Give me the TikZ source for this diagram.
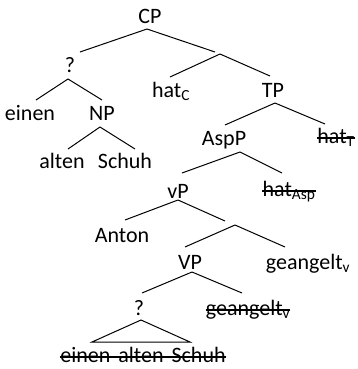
\documentclass[tikz,border=0pt]{standalone}
\usepackage{fontspec}
\setmainfont{Carlito}
\begin{document}
\begin{tikzpicture}[x=1pt,y=-1pt,
  lbl/.style={anchor=base,inner sep=0pt,font=\fontsize{22}{26}\selectfont},
  edge/.style={draw=black,line width=1pt},
  strike/.style={draw=black,line width=1.2pt}]
\useasboundingbox (0,0) rectangle (357,369);
% labels
\node[lbl] (CP) at (150,24) {CP};
\node[lbl] (Q1) at (70,72) {?};
\node[lbl] (einen) at (30,120) {einen};
\node[lbl] (NP) at (102,120) {NP};
\node[lbl] (hatC) at (171,97) {hat\textsubscript{C}};
\node[lbl] (TP) at (273,97) {TP};
\node[lbl] (alten) at (62,168) {alten};
\node[lbl] (Schuh) at (125,168) {Schuh};
\node[lbl] (AspP) at (224,145) {AspP};
\node[lbl] (hatT) at (336,143) {hat\textsubscript{T}};
\node[lbl] (vP) at (178,198) {vP};
\node[lbl] (hatAsp) at (289,196) {hat\textsubscript{Asp}};
\node[lbl] (Anton) at (122,242) {Anton};
\node[lbl] (VP) at (190,269) {VP};
\node[lbl] (geV) at (308,269) {geangelt\textsubscript{v}};
\node[lbl] (Q2) at (139,315) {?};
\node[lbl] (geS) at (248,315) {geangelt\textsubscript{v}};
\node[lbl] (eas) at (143,362) {einen\hspace{3pt} alten\hspace{3pt} Schuh};
% attachment points
\coordinate (CPb) at (147,29);
\coordinate (Q1t) at (80,52);
\coordinate (Q1b) at (68,79);
\coordinate (Cbt) at (215,52);
\coordinate (Cbb) at (220,54);
\coordinate (hatCt) at (170,77);
\coordinate (TPt) at (270,76);
\coordinate (TPb) at (275,103);
\coordinate (einent) at (36,100);
\coordinate (NPt) at (102,100);
\coordinate (NPb) at (100,127);
\coordinate (altent) at (68,149);
\coordinate (Schuht) at (135,149);
\coordinate (AspPt) at (225,125);
\coordinate (AspPb) at (240,152);
\coordinate (hatTt) at (325,124);
\coordinate (vPt) at (182,173);
\coordinate (vPb) at (178,200);
\coordinate (hatAspt) at (282,173);
\coordinate (Antont) at (125,220);
\coordinate (Vbt) at (225,221);
\coordinate (Vbb) at (235,225);
\coordinate (VPt) at (185,247);
\coordinate (VPb) at (192,272);
\coordinate (geVt) at (285,247);
\coordinate (Q2t) at (142,293);
\coordinate (Q2b) at (141,320);
\coordinate (geSt) at (242,293);
\coordinate (triL) at (92,342);
\coordinate (triR) at (190,342);
% edges
\draw[edge] (CPb) -- (Q1t);
\draw[edge] (CPb) -- (Cbt);
\draw[edge] (Cbb) -- (hatCt);
\draw[edge] (Cbb) -- (TPt);
\draw[edge] (Q1b) -- (einent);
\draw[edge] (Q1b) -- (NPt);
\draw[edge] (NPb) -- (altent);
\draw[edge] (NPb) -- (Schuht);
\draw[edge] (TPb) -- (AspPt);
\draw[edge] (TPb) -- (hatTt);
\draw[edge] (AspPb) -- (vPt);
\draw[edge] (AspPb) -- (hatAspt);
\draw[edge] (vPb) -- (Antont);
\draw[edge] (vPb) -- (Vbt);
\draw[edge] (Vbb) -- (VPt);
\draw[edge] (Vbb) -- (geVt);
\draw[edge] (VPb) -- (Q2t);
\draw[edge] (VPb) -- (geSt);
\draw[edge] (Q2b) -- (triL) -- (triR) -- cycle;
% strike-throughs
\draw[strike] ([yshift=5pt]hatT.base west) -- ([yshift=5pt]hatT.base east);
\draw[strike] ([yshift=5pt]hatAsp.base west) -- ([yshift=5pt]hatAsp.base east);
\draw[strike] ([yshift=5pt]geS.base west) -- ([yshift=5pt]geS.base east);
\draw[strike] ([yshift=5pt]eas.base west) -- ([yshift=5pt]eas.base east);
\end{tikzpicture}
\end{document}
